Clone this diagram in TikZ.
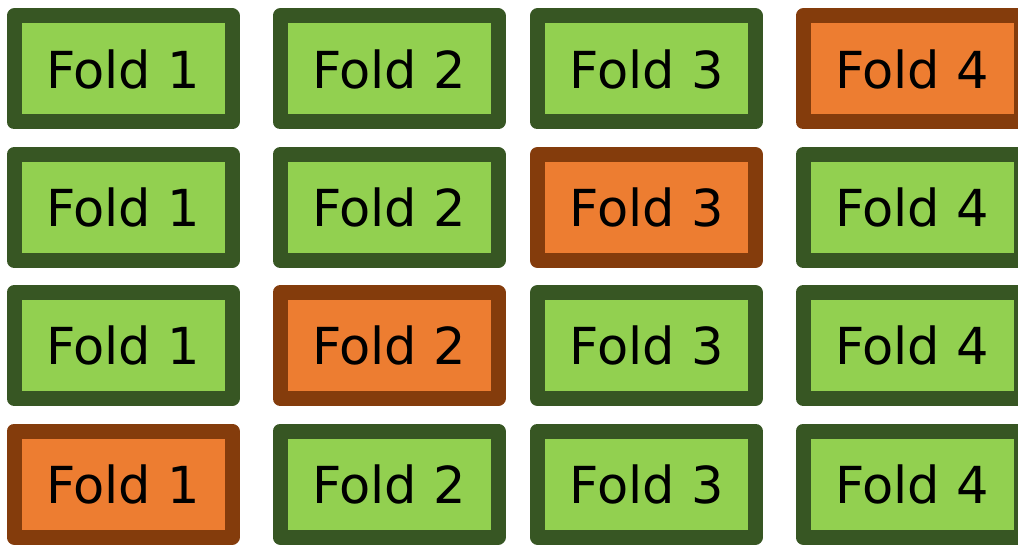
\documentclass[tikz,border=0pt]{standalone}
\usepackage{fontspec}
\setmainfont{DejaVu Sans}
\definecolor{lgreen}{HTML}{92D050}
\definecolor{dgreen}{HTML}{375623}
\definecolor{lorange}{HTML}{ED7D31}
\definecolor{dbrown}{HTML}{843C0C}
\tikzset{
  fold/.style={draw=dgreen, fill=lgreen, line width=15pt, line join=round,
    minimum width=218pt, minimum height=106pt, inner sep=0pt,
    font=\fontsize{51}{51}\selectfont, text=black},
  testfold/.style={fold, draw=dbrown, fill=lorange}
}
\begin{document}
\begin{tikzpicture}[x=1pt,y=-1pt]
\useasboundingbox (0,0) rectangle (1018,545);
\def\ya{69}\def\yb{207.5}\def\yc{345.5}\def\yd{484}
\def\xa{123}\def\xb{389}\def\xc{646.5}\def\xd{912}
% row 1
\node[fold] (r1c1) at (\xa,\ya) {Fold 1};
\node[fold] (r1c2) at (\xb,\ya) {Fold 2};
\node[fold] (r1c3) at (\xc,\ya) {Fold 3};
\node[testfold] (r1c4) at (\xd,\ya) {Fold 4};
% row 2
\node[fold] (r2c1) at (\xa,\yb) {Fold 1};
\node[fold] (r2c2) at (\xb,\yb) {Fold 2};
\node[testfold] (r2c3) at (\xc,\yb) {Fold 3};
\node[fold] (r2c4) at (\xd,\yb) {Fold 4};
% row 3
\node[fold] (r3c1) at (\xa,\yc) {Fold 1};
\node[testfold] (r3c2) at (\xb,\yc) {Fold 2};
\node[fold] (r3c3) at (\xc,\yc) {Fold 3};
\node[fold] (r3c4) at (\xd,\yc) {Fold 4};
% row 4
\node[testfold] (r4c1) at (\xa,\yd) {Fold 1};
\node[fold] (r4c2) at (\xb,\yd) {Fold 2};
\node[fold] (r4c3) at (\xc,\yd) {Fold 3};
\node[fold] (r4c4) at (\xd,\yd) {Fold 4};
\end{tikzpicture}
\end{document}
